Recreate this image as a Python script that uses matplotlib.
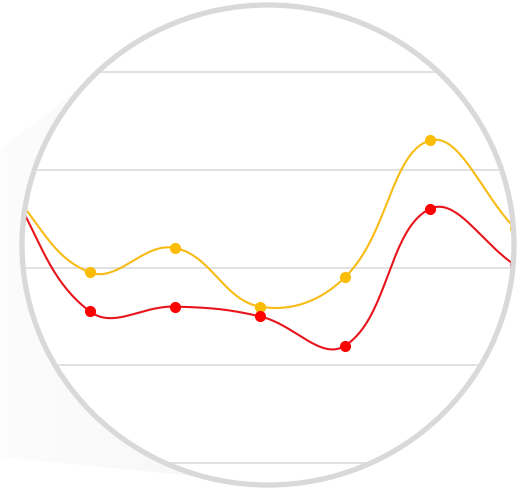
import numpy as np
import matplotlib
matplotlib.use("Agg")
import matplotlib.pyplot as plt
from matplotlib.patches import Ellipse, Polygon
from matplotlib.transforms import IdentityTransform

# ---- data ----
categories = [0, 1, 2, 3, 4, 5, 6]
series_yellow = [57, 39, 44, 32, 38, 66, 48]
series_red = [58, 31, 32, 30, 24, 52, 40.5]
grid_values = [0, 20, 40, 60, 80]

W, H = 529, 492
fig = plt.figure(figsize=(W / 100, H / 100), dpi=100)
fig.patch.set_facecolor("white")
ax = fig.add_axes([0, 0, 1, 1])
ax.set_axis_off()
ax.set_xlim(-5 / 85, 6 + 14 / 85)
ax.set_ylim(-29 / 97.75 * 20, 463 / 97.75 * 20)

ident = IdentityTransform()
cx, cy = 268, H - 245
rx, ry = 246, 240

# long shadow with a soft horizontal gradient
shadow = Polygon([(0, H - 150), (90, H - 80), (cx, cy), (215, H - 478), (0, H - 457)],
                 closed=True, facecolor="none", edgecolor="none", transform=ident)
fig.add_artist(shadow)
grad = np.linspace(0.985, 0.962, 64)[None, :]
img = ax.imshow(np.repeat(grad, 4, axis=0), cmap="gray", vmin=0, vmax=1,
                extent=[ax.get_xlim()[0], (cx - 0) / 85 - 5 / 85, ax.get_ylim()[0], ax.get_ylim()[1]],
                aspect="auto", zorder=0, interpolation="bilinear")
img.set_clip_path(shadow)

# white disc
disc = Ellipse((cx, cy), 2 * rx, 2 * ry, facecolor="white", edgecolor="none",
               transform=ident, zorder=1)
ax.add_patch(disc)

clip = Ellipse((cx, cy), 2 * rx - 5, 2 * ry - 5, facecolor="none", edgecolor="none",
               transform=ident)
ax.add_patch(clip)

for g in grid_values:
    ln = ax.axhline(g, color="#dcdcdc", lw=1.2, zorder=2)
    ln.set_clip_path(clip)


def spline(xv, yv, tension=0.4, n=40):
    pts = ax.transData.transform(np.column_stack([xv, yv]))
    m = len(pts)
    cp_prev = np.zeros_like(pts)
    cp_next = np.zeros_like(pts)
    for i in range(m):
        prev = pts[max(i - 1, 0)]
        cur = pts[i]
        nxt = pts[min(i + 1, m - 1)]
        d01 = np.hypot(*(cur - prev))
        d12 = np.hypot(*(nxt - cur))
        s = d01 + d12
        fa = tension * d01 / s if s else 0
        fb = tension * d12 / s if s else 0
        cp_prev[i] = cur - fa * (nxt - prev)
        cp_next[i] = cur + fb * (nxt - prev)
    out = []
    t = np.linspace(0, 1, n)[:, None]
    for i in range(m - 1):
        p0, p1, p2, p3 = pts[i], cp_next[i], cp_prev[i + 1], pts[i + 1]
        seg = ((1 - t) ** 3) * p0 + 3 * ((1 - t) ** 2) * t * p1 + 3 * (1 - t) * t ** 2 * p2 + t ** 3 * p3
        out.append(seg if i == 0 else seg[1:])
    out = np.vstack(out)
    return ax.transData.inverted().transform(out)


for vals, lc, mc in [(series_yellow, "#f8bb14", "#fbbc05"), (series_red, "#e8141c", "#ff0000")]:
    curve = spline(categories, vals)
    l, = ax.plot(curve[:, 0], curve[:, 1], color=lc, lw=1.5, zorder=3)
    l.set_clip_path(clip)
    p, = ax.plot(categories, vals, "o", color=mc, ms=7, mec=mc, zorder=4)
    p.set_clip_path(clip)

ring = Ellipse((cx, cy), 2 * rx, 2 * ry, facecolor="none", edgecolor="#d9d9d9",
               lw=3.8, transform=ident, zorder=5)
ax.add_patch(ring)

ax.set_xlim(-5 / 85, 6 + 14 / 85)
ax.set_ylim(-29 / 97.75 * 20, 463 / 97.75 * 20)

fig.savefig("out.png", dpi=100, facecolor="white")
